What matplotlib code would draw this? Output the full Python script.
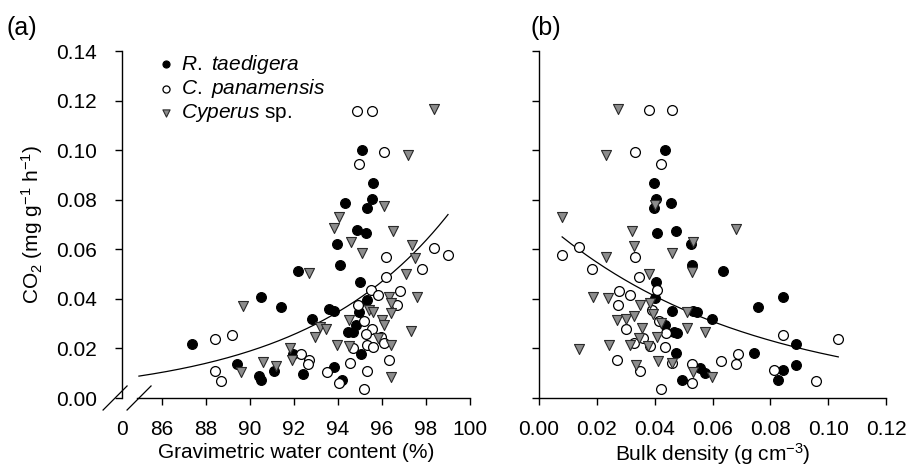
import numpy as np
import matplotlib.pyplot as plt

plt.rcParams['font.family'] = ['Liberation Sans', 'DejaVu Sans']
plt.rcParams['mathtext.fontset'] = 'custom'
plt.rcParams['mathtext.rm'] = 'Liberation Sans'
plt.rcParams['mathtext.it'] = 'Liberation Sans:italic'
plt.rcParams['font.size'] = 15

# (a) gravimetric water content (%) vs CO2
rt_water = [87.36, 89.4, 90.5, 90.4, 90.5, 91.4, 91.1, 92.2, 91.95, 92.4, 92.8, 93.6, 93.8,
            93.95, 94.1, 93.8, 94.2, 94.3, 94.86, 95.27, 95.1, 95.6, 95.55, 95.3, 95.0, 95.3,
            94.95, 94.8, 94.45, 94.7, 95.05]
rt_co2_a = [0.0218, 0.0137, 0.0408, 0.0089, 0.0073, 0.0368, 0.0109, 0.0513, 0.0178, 0.0097,
            0.0319, 0.036, 0.0352, 0.0622, 0.0537, 0.0125, 0.0073, 0.0788, 0.0679, 0.0667,
            0.1002, 0.0869, 0.0804, 0.0768, 0.0469, 0.0396, 0.0348, 0.0295, 0.0267, 0.0267, 0.0178]

cp_water = [88.4, 89.2, 88.4, 88.7, 92.3, 92.7, 92.65, 93.5, 94.05, 94.55, 94.7, 94.86, 95.55,
            96.1, 94.95, 98.36, 99.0, 96.2, 96.2, 97.8, 95.5, 96.8, 95.8, 96.7, 94.9, 95.2,
            95.55, 95.27, 95.95, 96.1, 95.3, 95.6, 96.3, 95.3, 95.2]
cp_co2_a = [0.0238, 0.0255, 0.0109, 0.0069, 0.0178, 0.0154, 0.0137, 0.0105, 0.0061, 0.0141,
            0.0202, 0.1156, 0.1156, 0.0994, 0.0945, 0.0606, 0.0578, 0.057, 0.0489, 0.052,
            0.0436, 0.0432, 0.0416, 0.0376, 0.0376, 0.031, 0.0279, 0.0259, 0.0246, 0.0222,
            0.0214, 0.0206, 0.0154, 0.0109, 0.0036]

cy_water = [89.7, 89.6, 90.6, 91.2, 91.8, 91.9, 92.7, 93.2, 93.45, 92.95, 93.95, 94.5, 94.5,
            94.05, 93.8, 94.6, 95.1, 96.1, 96.5, 97.2, 98.36, 97.36, 97.5, 97.1, 97.6, 96.3,
            96.4, 95.4, 95.6, 96.4, 96.0, 96.1, 95.8, 96.4, 96.4, 97.3]
cy_co2_a = [0.0372, 0.0105, 0.0145, 0.0129, 0.0202, 0.0154, 0.0505, 0.0287, 0.0279, 0.0246,
            0.0214, 0.021, 0.0315, 0.0731, 0.0687, 0.063, 0.0586, 0.0776, 0.0675, 0.098,
            0.1164, 0.0618, 0.0566, 0.0501, 0.0408, 0.0408, 0.0384, 0.0356, 0.0348, 0.0343,
            0.0315, 0.0295, 0.0242, 0.0214, 0.0085, 0.0271]

# (b) bulk density (g cm-3) vs CO2
rt_bulk = [0.0436, 0.0398, 0.0405, 0.0398, 0.0457, 0.0408, 0.0474, 0.0526, 0.0529, 0.0405,
           0.0401, 0.046, 0.0533, 0.0547, 0.0436, 0.0467, 0.0478, 0.0474, 0.0495, 0.0557,
           0.0574, 0.0599, 0.0637, 0.0758, 0.0844, 0.0744, 0.0889, 0.0844, 0.0827, 0.0889]
rt_co2_b = [0.1002, 0.0869, 0.0804, 0.0768, 0.0788, 0.0667, 0.0675, 0.0622, 0.0537, 0.0469,
            0.0404, 0.0352, 0.0352, 0.0348, 0.0295, 0.0267, 0.0263, 0.0182, 0.0073, 0.0121,
            0.0101, 0.0319, 0.0513, 0.0368, 0.0408, 0.0182, 0.0218, 0.0113, 0.0073, 0.0133]

cp_bulk = [0.0381, 0.046, 0.0332, 0.0422, 0.0138, 0.008, 0.0332, 0.0183, 0.0346, 0.0408,
           0.0277, 0.0315, 0.0273, 0.039, 0.0301, 0.0415, 0.0439, 0.036, 0.0329, 0.0384,
           0.0436, 0.027, 0.046, 0.035, 0.0529, 0.0529, 0.0422, 0.063, 0.068, 0.0689,
           0.0844, 0.1035, 0.0813, 0.0958]
cp_co2_b = [0.116, 0.116, 0.0994, 0.0945, 0.061, 0.0578, 0.057, 0.052, 0.0489, 0.0436,
            0.0432, 0.0416, 0.0376, 0.0356, 0.0279, 0.031, 0.0263, 0.0242, 0.0222, 0.021,
            0.0206, 0.0154, 0.0141, 0.0109, 0.0061, 0.0137, 0.0036, 0.015, 0.0137, 0.0178,
            0.0255, 0.0238, 0.0113, 0.0069]

cy_bulk = [0.0273, 0.0232, 0.008, 0.0322, 0.0401, 0.068, 0.0329, 0.0232, 0.046, 0.0533,
           0.0529, 0.038, 0.0187, 0.0239, 0.035, 0.0384, 0.0394, 0.0512, 0.027, 0.0301,
           0.0329, 0.0422, 0.0356, 0.0512, 0.0574, 0.0346, 0.0408, 0.0315, 0.0377, 0.0138,
           0.0242, 0.0412, 0.046, 0.0336, 0.0533, 0.0599]
cy_co2_b = [0.1164, 0.098, 0.0731, 0.0675, 0.078, 0.0683, 0.0614, 0.057, 0.0586, 0.063,
            0.0509, 0.0501, 0.0408, 0.0404, 0.0376, 0.0384, 0.034, 0.0348, 0.0315, 0.0319,
            0.0331, 0.0303, 0.0283, 0.0283, 0.0267, 0.0242, 0.0246, 0.0214, 0.021, 0.0198,
            0.0214, 0.015, 0.0141, 0.0133, 0.0105, 0.0085]

# exponential fits y = a * exp(b * (x - x0))
fit_a = dict(a=0.0089, b=0.1513, x0=85.0, xmin=84.95, xmax=99.0)
fit_b = dict(a=0.065, b=-14.3, x0=0.008, xmin=0.008, xmax=0.1035)

labels = [r'$\it{R.\ taedigera}$', r'$\it{C.\ panamensis}$', r'$\it{Cyperus}$ sp.']

fig = plt.figure(figsize=(9.08, 4.71), dpi=100)
ax1 = fig.add_axes([122 / 908, 73 / 471, 348 / 908, 347 / 471])
ax2 = fig.add_axes([539 / 908, 73 / 471, 347 / 908, 347 / 471])

def draw_points(ax, xs, ys):
    ax.scatter(xs[0], ys[0], s=50, marker='o', facecolor='black', edgecolor='black',
               linewidth=0.8, zorder=3, label=labels[0])
    ax.scatter(xs[1], ys[1], s=50, marker='o', facecolor='white', edgecolor='black',
               linewidth=0.9, zorder=3, label=labels[1])
    ax.scatter(xs[2], ys[2], s=52, marker='v', facecolor='#8c8c8c', edgecolor='#2a2a2a',
               linewidth=0.8, zorder=3, label=labels[2])

def draw_fit(ax, f):
    xx = np.linspace(f['xmin'], f['xmax'], 200)
    ax.plot(xx, f['a'] * np.exp(f['b'] * (xx - f['x0'])), color='black', lw=0.9, zorder=2)

draw_points(ax1, [rt_water, cp_water, cy_water], [rt_co2_a, cp_co2_a, cy_co2_a])
draw_fit(ax1, fit_a)
draw_points(ax2, [rt_bulk, cp_bulk, cy_bulk], [rt_co2_b, cp_co2_b, cy_co2_b])
draw_fit(ax2, fit_b)

for ax in (ax1, ax2):
    ax.spines['top'].set_visible(False)
    ax.spines['right'].set_visible(False)
    ax.spines['left'].set_linewidth(1.0)
    ax.spines['bottom'].set_linewidth(1.0)
    ax.set_ylim(0, 0.14)
    ax.set_yticks(np.arange(0, 0.141, 0.02))
    ax.tick_params(direction='out', length=5, width=1.0, labelsize=15)
    ax.tick_params(axis='y', pad=13)
    ax.tick_params(axis='x', pad=11)

# panel (a): broken x axis, "0" at the origin then 86-100
x_origin = 84.18
ax1.set_xlim(x_origin, 100)
ax1.set_xticks([x_origin] + list(range(86, 101, 2)))
ax1.set_xticklabels(['0'] + [str(v) for v in range(86, 101, 2)])
ax1.xaxis.get_major_ticks()[0].tick1line.set_visible(False)
ax1.spines['bottom'].set_bounds(84.86, 100)
ax1.set_yticklabels(['%.2f' % v for v in np.arange(0, 0.141, 0.02)])
for x0 in (83.32, 84.41):
    ax1.plot([x0, x0 + 1.09], [-0.00485, 0.00485], color='black', lw=0.9, clip_on=False)
ax1.set_xlabel('Gravimetric water content (%)', fontsize=15, labelpad=3)
ax1.set_ylabel(r'CO$_2$ (mg g$^{-1}$ h$^{-1}$)', fontsize=15, labelpad=8)
ax1.legend(loc='upper left', bbox_to_anchor=(0.057, 1.025), frameon=False, fontsize=15,
           handletextpad=0.1, labelspacing=0.08, borderpad=0, handlelength=1.3,
           markerscale=0.72)

# panel (b)
ax2.set_xlim(0, 0.12)
ax2.set_xticks(np.arange(0, 0.121, 0.02))
ax2.set_xticklabels(['%.2f' % v for v in np.arange(0, 0.121, 0.02)])
ax2.set_yticklabels([])
ax2.set_xlabel(r'Bulk density (g cm$^{-3}$)', fontsize=15, labelpad=1)

fig.text(6 / 908, 1 - 28 / 471, '(a)', fontsize=18, va='center', ha='left')
fig.text(531 / 908, 1 - 28 / 471, '(b)', fontsize=18, va='center', ha='left')

fig.savefig('out.png', dpi=100)
